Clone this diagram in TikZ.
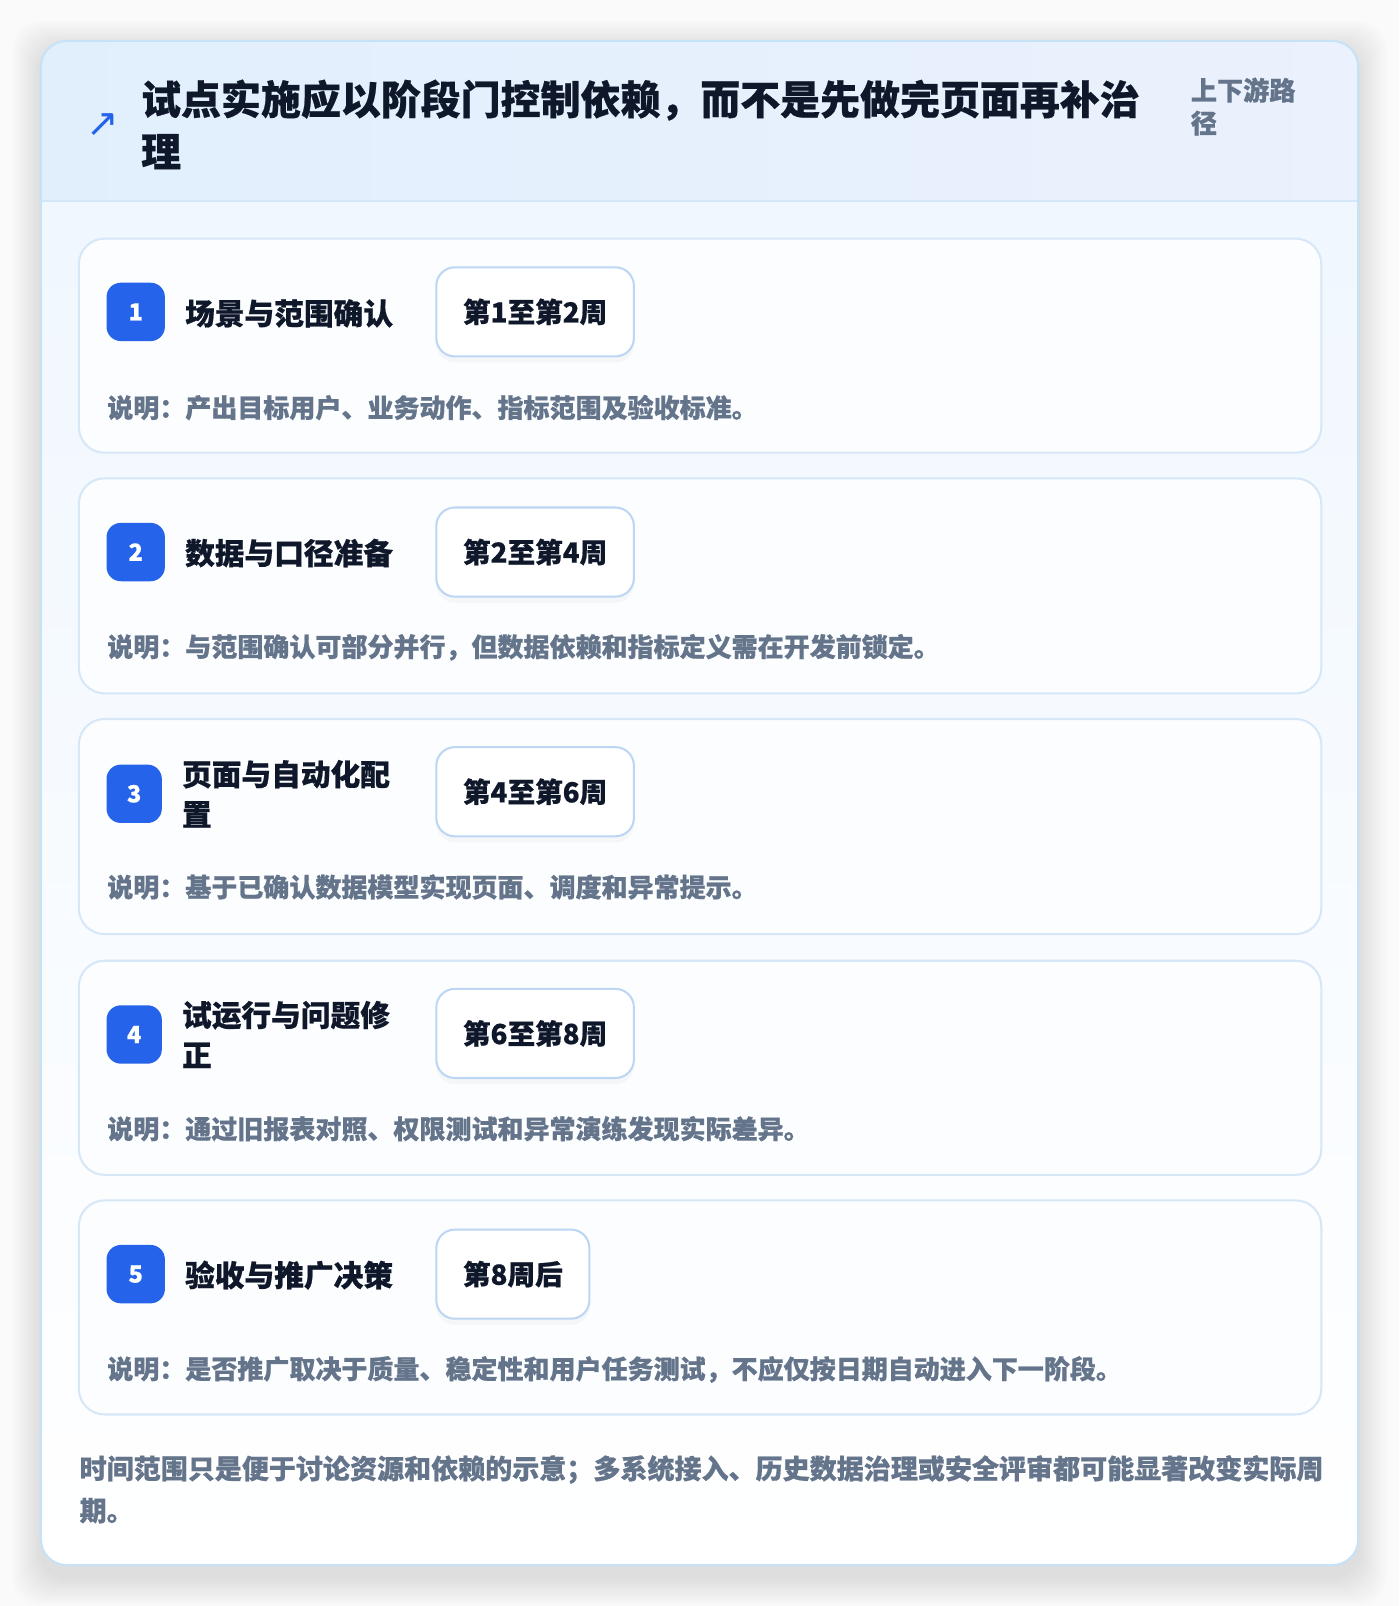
\documentclass[tikz,border=0pt]{standalone}
\usepackage{fontspec}
\setmainfont{Noto Sans CJK SC}[BoldFeatures={FakeBold=0.6}]
\newfontfamily\symfont{DejaVu Sans}
\usetikzlibrary{shadows}

\definecolor{pagebg}{HTML}{FAFAFB}
\definecolor{titleink}{HTML}{0F172A}
\definecolor{subgray}{HTML}{64748B}
\definecolor{badgeblue}{HTML}{2563EB}
\definecolor{cardline}{HTML}{C6E2F6}
\definecolor{headleft}{HTML}{E1EFFD}
\definecolor{headright}{HTML}{EBF1FD}
\definecolor{headline}{HTML}{D3E7FA}
\definecolor{bodytop}{HTML}{F0F7FE}
\definecolor{stagefill}{HTML}{FCFDFF}
\definecolor{stageline}{HTML}{D6E7F8}
\definecolor{pillline}{HTML}{BDD6F4}

\tikzset{every picture/.style={line width=0.75pt}}
\tikzset{
  stagecard/.style={draw=stageline, fill=stagefill, line width=1pt, rounded corners=12.5pt},
  badgebox/.style={fill=badgeblue, rounded corners=7pt, text=white, inner sep=0pt,
    minimum width=28.5pt, minimum height=28.5pt, font=\fontsize{11.5}{13}\selectfont\bfseries},
  stagetitle/.style={anchor=west, inner sep=0pt, align=left, text=titleink,
    font=\fontsize{14.5}{19.5}\selectfont\bfseries},
  weekpill/.style={anchor=west, draw=pillline, fill=white, line width=1pt, rounded corners=9pt,
    inner xsep=13pt, minimum height=43.5pt, text=titleink,
    font=\fontsize{13.5}{16}\selectfont\bfseries,
    drop shadow={opacity=0.05, shadow xshift=0pt, shadow yshift=-3pt}},
  desctext/.style={anchor=west, inner sep=0pt, text=subgray,
    font=\fontsize{12.7}{16}\selectfont\bfseries}
}

\begin{document}
\begin{tikzpicture}[x=0.5pt,y=0.5pt,yscale=-1,xscale=1]
	\useasboundingbox (0,0) rectangle (1366,1568);
	\fill[pagebg] (0,0) rectangle (1366,1568);
	
	%Outer shadow
	\foreach \s in {2,4,...,28}
		\fill[black, opacity=0.006, rounded corners=14pt] ({40-\s},{48-\s}) rectangle ({1326+\s},{1540+\s});
	
	%Outer card
	\fill[white, rounded corners=12.5pt] (40,40) rectangle (1326,1528);
	\begin{scope}
		\clip[rounded corners=12.5pt] (40,40) rectangle (1326,1528);
		\shade[left color=headleft, right color=headright] (40,40) rectangle (1326,196);
		\shade[top color=bodytop, bottom color=white] (40,196) rectangle (1326,1528);
	\end{scope}
	\draw[headline, line width=1pt] (40,196) -- (1326,196);
	\draw[cardline, line width=1pt, rounded corners=12.5pt] (40,40) rectangle (1326,1528);
	
	% Text Node
	\node (icon) at (100,122) [inner sep=0pt, text=badgeblue, font=\symfont\fontsize{19}{20}\selectfont] {↗};
	% Text Node
	\node (title) at (137,77) [anchor=north west, inner sep=0pt, align=left, text=titleink,
		font=\fontsize{19.5}{25.5}\selectfont\bfseries]
		{试点实施应以阶段门控制依赖，而不是先做完页面再补治\\理};
	% Text Node
	\node (scope) at (1162,75) [anchor=north west, inner sep=0pt, align=left, text=subgray,
		font=\fontsize{12.75}{16}\selectfont\bfseries]
		{上下游路\\径};
	
	%Stage 1
	\draw[stagecard] (77,233) rectangle (1290,442);
	\node (b1) at (132.5,304.5) [badgebox] {1};
	\node (s1) at (180,306) [stagetitle] {场景与范围确认};
	\node (w1) at (425,304.5) [weekpill] {第1至第2周};
	\node (d1) at (104,398) [desctext] {说明：产出目标用户、业务动作、指标范围及验收标准。};
	
	%Stage 2
	\draw[stagecard] (77,467) rectangle (1290,677);
	\node (b2) at (132.5,539) [badgebox] {2};
	\node (s2) at (180,540) [stagetitle] {数据与口径准备};
	\node (w2) at (425,539) [weekpill] {第2至第4周};
	\node (d2) at (104,632) [desctext] {说明：与范围确认可部分并行，但数据依赖和指标定义需在开发前锁定。};
	
	%Stage 3
	\draw[stagecard] (77,702) rectangle (1290,912);
	\node (b3) at (131,775) [badgebox, minimum width=27pt] {3};
	\node (s3) at (177,775) [stagetitle] {页面与自动化配\\置};
	\node (w3) at (425,773) [weekpill] {第4至第6周};
	\node (d3) at (104,866) [desctext] {说明：基于已确认数据模型实现页面、调度和异常提示。};
	
	%Stage 4
	\draw[stagecard] (77,938) rectangle (1290,1147);
	\node (b4) at (131,1010) [badgebox, minimum width=27pt] {4};
	\node (s4) at (177,1010) [stagetitle] {试运行与问题修\\正};
	\node (w4) at (425,1009) [weekpill] {第6至第8周};
	\node (d4) at (104,1102) [desctext] {说明：通过旧报表对照、权限测试和异常演练发现实际差异。};
	
	%Stage 5
	\draw[stagecard] (77,1172) rectangle (1290,1381);
	\node (b5) at (132.5,1244) [badgebox] {5};
	\node (s5) at (180,1245) [stagetitle] {验收与推广决策};
	\node (w5) at (425,1244) [weekpill] {第8周后};
	\node (d5) at (104,1337) [desctext] {说明：是否推广取决于质量、稳定性和用户任务测试，不应仅按日期自动进入下一阶段。};
	
	% Text Node
	\node (note) at (77,1420) [anchor=north west, inner sep=0pt, align=left, text=subgray,
		font=\fontsize{13.2}{20.5}\selectfont\bfseries]
		{时间范围只是便于讨论资源和依赖的示意；多系统接入、历史数据治理或安全评审都可能显著改变实际周\\期。};
	
\end{tikzpicture}
\end{document}
